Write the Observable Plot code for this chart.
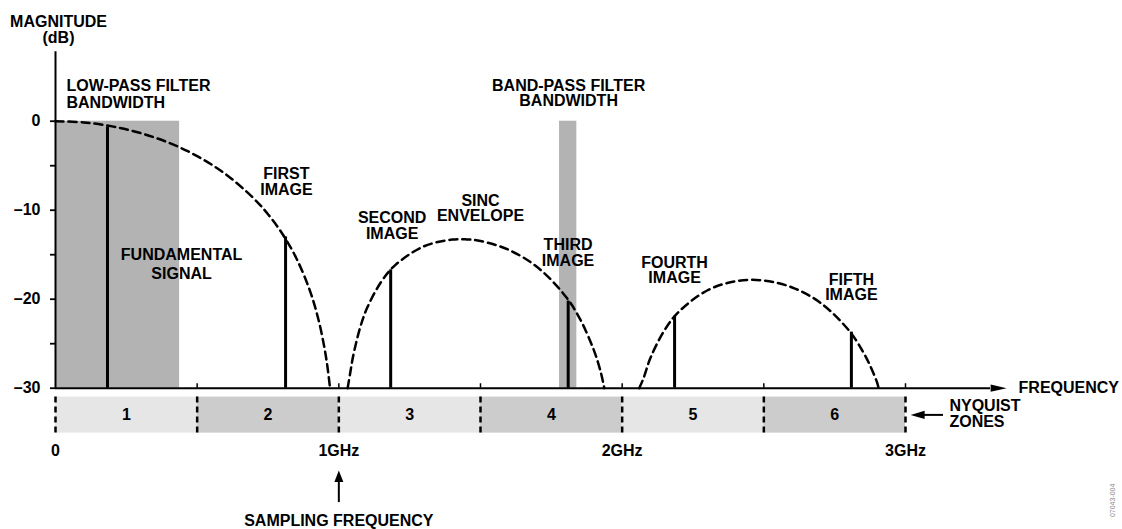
<!DOCTYPE html>
<html><head><meta charset="utf-8">
<script src="https://cdn.jsdelivr.net/npm/d3@7"></script>
<script src="https://cdn.jsdelivr.net/npm/@observablehq/plot@0.6"></script>
<style>
html,body{margin:0;padding:0;background:#fff;}
#chart svg{display:block;}
</style></head><body><div id="chart"></div>
<script>
// ---- data ----
// Nyquist zones (GHz)
const zoneStart = [0, 0.5, 1, 1.5, 2, 2.5];
const zoneEnd = [0.5, 1, 1.5, 2, 2.5, 3];
const zoneNames = ["1", "2", "3", "4", "5", "6"];
const zoneShade = ["light", "dark", "light", "dark", "light", "dark"];
// spectral lines (GHz, dB)
const lineNames = ["Fundamental", "First image", "Second image", "Third image", "Fourth image", "Fifth image"];
const lineFreq = [0.1835, 0.812, 1.183, 1.8095, 2.185, 2.809];
const lineDb = [-0.64, -13.0, -16.7, -20.2, -21.9, -23.7];
// sinc envelope (lobe, GHz, dB)
const envLobe = [1,1,1,1,1,1,1,1,1,1,1,1,1,1,1,1,
                 2,2,2,2,2,2,2,2,2,2,2,2,2,2,2,2,2,2,
                 3,3,3,3,3,3,3,3,3,3,3,3,3,3,3,3];
const envFreq = [0, 0.1, 0.2, 0.3, 0.4, 0.5, 0.6, 0.7, 0.75, 0.8, 0.85, 0.9, 0.93, 0.95, 0.96, 0.969,
                 1.031, 1.04, 1.05, 1.075, 1.1, 1.15, 1.2, 1.3, 1.4, 1.45, 1.5, 1.6, 1.7, 1.8, 1.85, 1.9, 1.925, 1.937,
                 2.06, 2.075, 2.1, 2.15, 2.2, 2.3, 2.4, 2.5, 2.6, 2.7, 2.8, 2.85, 2.875, 2.9, 2.905, 2.905];
const envDb = [0, -0.14, -0.58, -1.33, -2.42, -3.92, -5.94, -8.69, -10.45, -12.62, -15.39, -19.23, -22.54, -25.61, -27.63, -30,
               -30, -28.32, -26.48, -23.21, -20.97, -18.02, -16.14, -14.06, -13.30, -13.28, -13.46, -14.46, -16.39, -19.66, -22.15, -25.72, -28.27, -30,
               -30, -28.92, -26.59, -23.45, -21.41, -19.02, -17.98, -17.90, -18.68, -20.41, -23.50, -25.90, -27.46, -29.39, -30, -30];
// filter passbands (GHz, dB)
const filterNames = ["Low-pass filter", "Band-pass filter"];
const filterLo = [0, 1.779];
const filterHi = [0.438, 1.840];
const filterTop = [0, 0];
const filterBottom = [-30, -30];
// axis ticks
const yMajorTicks = [0, -10, -20, -30];
const yMinorTicks = [-5, -15, -25];
const xTickValues = [0, 1, 2, 3];
const xTickLabels = ["0", "1GHz", "2GHz", "3GHz"];
const xMinorTicks = [0.5, 1, 1.5, 2, 2.5, 3];

// ---- derived tables ----
const zones = zoneStart.map((s, i) => ({x1: s, x2: zoneEnd[i], name: zoneNames[i], shade: zoneShade[i]}));
const zoneBounds = [zoneStart[0], ...zoneEnd];
const lines = lineFreq.map((f, i) => ({name: lineNames[i], f, db: lineDb[i]}));
const envelope = envFreq.map((f, i) => ({lobe: envLobe[i], f, db: envDb[i]}));
const filters = filterNames.map((n, i) => ({name: n, x1: filterLo[i], x2: filterHi[i], y1: filterBottom[i], y2: filterTop[i]}));
const xTicks = xTickValues.map((v, i) => ({v, label: xTickLabels[i]}));

function arrowHead(dir, len, half) {
  return {draw(ctx) {
    ctx.moveTo(0, 0);
    if (dir === "right") { ctx.lineTo(-len, -half); ctx.lineTo(-len, half); }
    else if (dir === "left") { ctx.lineTo(len, -half); ctx.lineTo(len, half); }
    else { ctx.lineTo(-half, len); ctx.lineTo(half, len); }
    ctx.closePath();
  }};
}

const FONT = "Liberation Sans, Arial, Helvetica, sans-serif";
const FS = 16;

const chart = Plot.plot({
  width: 1122,
  height: 529,
  marginLeft: 55,
  marginRight: 217,
  marginTop: 51.3,
  marginBottom: 141.3,
  style: {fontFamily: FONT, fontSize: FS + "px", fontWeight: "bold", background: "#fff", color: "#000", overflow: "visible"},
  x: {domain: [0, 3], axis: null},
  y: {domain: [-30, 7.8], axis: null},
  marks: [
    // filter passbands
    Plot.rect(filters, {x1: "x1", x2: "x2", y1: "y1", y2: "y2", fill: "#b3b3b3"}),
    // Nyquist zone strip
    Plot.rect(zones, {x1: "x1", x2: "x2", y1: -31, y2: -35.05, fill: d => d.shade === "light" ? "#e6e6e6" : "#cccccc"}),
    Plot.ruleX(zoneBounds, {x: d => d, y1: -31, y2: -35.05, stroke: "#000", strokeWidth: 2.5, strokeDasharray: "6,4"}),
    Plot.text(zones, {x: d => (d.x1 + d.x2) / 2, y: -33.03, text: "name", fill: "#000"}),
    // sinc envelope
    Plot.line(envelope, {x: "f", y: "db", z: "lobe", curve: "catmull-rom", stroke: "#000", strokeWidth: 2.5, strokeDasharray: "8,5"}),
    // spectral lines
    Plot.ruleX(lines, {x: "f", y1: -30, y2: "db", stroke: "#000", strokeWidth: 3}),
    // y axis
    Plot.ruleX([0], {y1: -30, y2: 7.8, stroke: "#000", strokeWidth: 2}),
    Plot.axisY(yMajorTicks, {tickSize: 5, tickPadding: 10, strokeWidth: 1.8, tickFormat: d => d === 0 ? "0" : "\u2013" + (-d), fontSize: FS, fontWeight: "bold"}),
    Plot.axisY(yMinorTicks, {tickSize: 5, strokeWidth: 1.8, tickFormat: () => ""}),
    // frequency axis
    Plot.ruleY([-30], {x1: 0, x2: 3.30, stroke: "#000", strokeWidth: 2}),
    Plot.ruleX(xMinorTicks, {x: d => d, y1: -30, y2: -29.5, stroke: "#000", strokeWidth: 1.5}),
    Plot.dot([3.357], {x: d => d, y: -30, symbol: arrowHead("right", 16, 3.6), fill: "#000"}),
    Plot.text(xTicks, {x: "v", y: -37.0, text: "label", fill: "#000"}),
    // Nyquist zones arrow
    Plot.ruleY([-33.0], {x1: 3.06, x2: 3.134, stroke: "#000", strokeWidth: 2}),
    Plot.dot([3.018], {x: d => d, y: -33.0, symbol: arrowHead("left", 14, 4.2), fill: "#000"}),
    // sampling frequency arrow
    Plot.ruleX([1], {x: d => d, y1: -40.3, y2: -42.85, stroke: "#000", strokeWidth: 2}),
    Plot.dot([1], {x: d => d, y: -39.25, symbol: arrowHead("up", 11.5, 4.5), fill: "#000"}),
    // annotations
    Plot.text(["MAGNITUDE\n(dB)"], {x: 0.0106, y: 10.29, text: d => d, lineHeight: 1.02, fill: "#000"}),
    Plot.text(["LOW-PASS FILTER\nBANDWIDTH"], {x: 0.0388, y: 3.04, text: d => d, textAnchor: "start", lineHeight: 1.04, fill: "#000"}),
    Plot.text(["BAND-PASS FILTER\nBANDWIDTH"], {x: 1.811, y: 3.13, text: d => d, lineHeight: 0.98, fill: "#000"}),
    Plot.text(["FIRST\nIMAGE"], {x: 0.815, y: -6.78, text: d => d, lineHeight: 1.0, fill: "#000"}),
    Plot.text(["SECOND\nIMAGE"], {x: 1.188, y: -11.78, text: d => d, lineHeight: 0.96, fill: "#000"}),
    Plot.text(["SINC\nENVELOPE"], {x: 1.5, y: -9.85, text: d => d, lineHeight: 0.96, fill: "#000"}),
    Plot.text(["THIRD\nIMAGE"], {x: 1.809, y: -14.81, text: d => d, lineHeight: 0.96, fill: "#000"}),
    Plot.text(["FOURTH\nIMAGE"], {x: 2.185, y: -16.82, text: d => d, lineHeight: 0.93, fill: "#000"}),
    Plot.text(["FIFTH\nIMAGE"], {x: 2.809, y: -18.74, text: d => d, lineHeight: 0.94, fill: "#000"}),
    Plot.text(["FUNDAMENTAL\nSIGNAL"], {x: 0.445, y: -15.96, text: d => d, lineHeight: 1.22, fill: "#000"}),
    Plot.text(["NYQUIST\nZONES"], {x: 3.155, y: -32.84, text: d => d, textAnchor: "start", lineHeight: 1.0, fill: "#000"}),
    Plot.text(["FREQUENCY"], {x: 3.399, y: -30, text: d => d, textAnchor: "start", fill: "#000"}),
    Plot.text(["SAMPLING FREQUENCY"], {x: 1.0, y: -44.86, text: d => d, fill: "#000"}),
    Plot.text(["07043-004"], {x: 3.7306, y: -42.6, text: d => d, rotate: -90, fontSize: 7, fontWeight: "normal", fill: "#888"})
  ]
});
document.getElementById("chart").appendChild(chart);
</script>
</body></html>
